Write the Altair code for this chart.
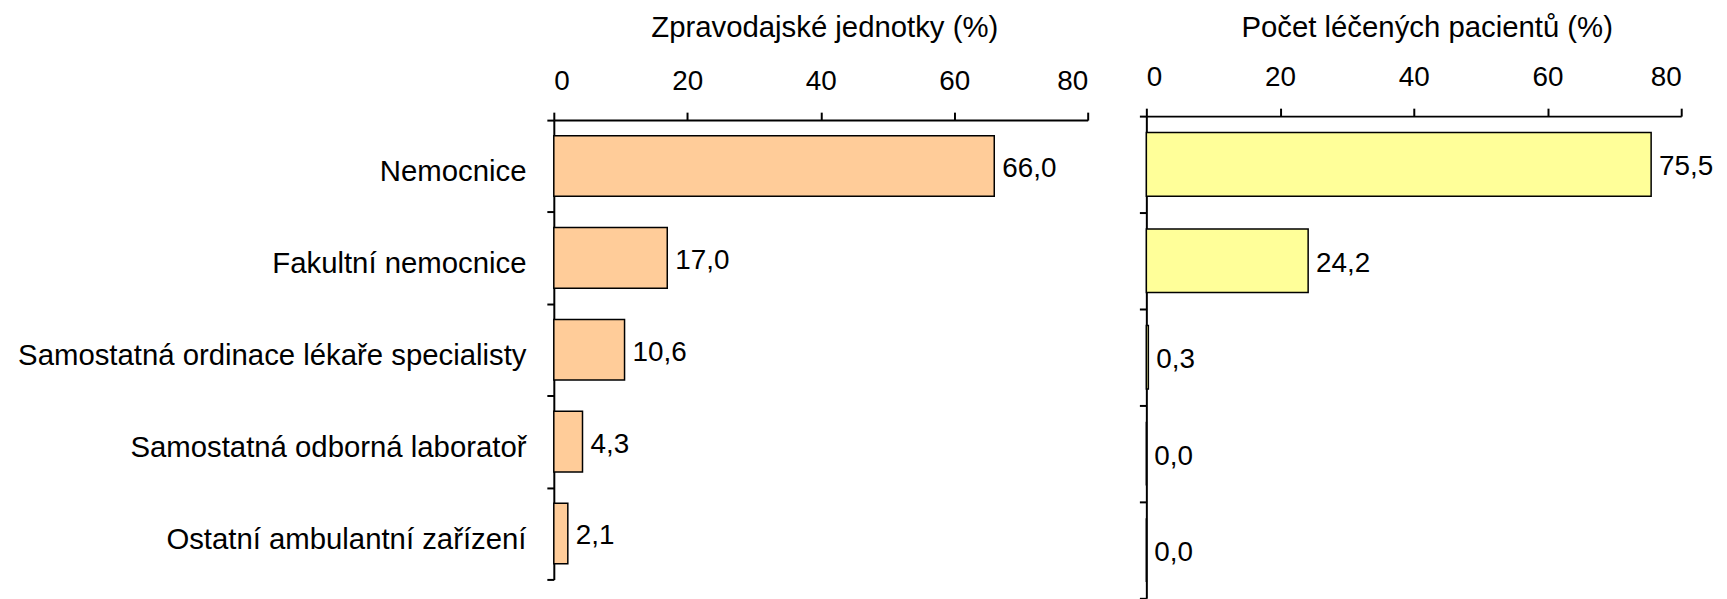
import altair as alt
import pandas as pd

categories = [
    "Nemocnice",
    "Fakultní nemocnice",
    "Samostatná ordinace lékaře specialisty",
    "Samostatná odborná laboratoř",
    "Ostatní ambulantní zařízení",
]
units_pct = [66.0, 17.0, 10.6, 4.3, 2.1]
patients_pct = [75.5, 24.2, 0.3, 0.0, 0.0]
x_ticks = [0, 20, 40, 60, 80]

df = pd.DataFrame({"cat": categories, "units": units_pct, "patients": patients_pct})

FONT = "Liberation Sans"


def panel(field, title, color, width, height, y_range, x_offset,
          show_labels, title_pad, title_x):
    base = alt.Chart(df).transform_calculate(
        lab=f"replace(format(datum.{field}, '.1f'), '.', ',')"
    )
    y = alt.Y(
        "cat:N",
        sort=categories,
        title=None,
        scale=alt.Scale(paddingInner=0, paddingOuter=0, range=y_range),
        axis=alt.Axis(
            labels=show_labels,
            tickBand="extent",
            tickSize=7,
            tickWidth=2,
            tickColor="black",
            domainColor="black",
            domainWidth=2,
            labelPadding=21,
            labelOffset=6,
            labelFontSize=29.5,
            labelFont=FONT,
            labelColor="black",
            labelLimit=800,
            grid=False,
        ),
    )
    x = alt.X(
        f"{field}:Q",
        scale=alt.Scale(domain=[0, 80], nice=False),
        axis=alt.Axis(
            orient="top",
            values=x_ticks,
            offset=x_offset,
            title=title,
            titleFont=FONT,
            titleFontSize=29.5,
            titleFontWeight="normal",
            titleColor="black",
            titlePadding=title_pad,
            titleX=title_x,
            tickSize=8,
            tickWidth=2,
            tickColor="black",
            domainColor="black",
            domainWidth=2,
            labelPadding=17,
            labelFontSize=28,
            labelFont=FONT,
            labelColor="black",
            grid=False,
        ),
    )
    bars = base.mark_bar(
        color=color, stroke="black", strokeWidth=1.5, height=alt.RelativeBandSize(0.66)
    ).encode(x=x, y=y)
    text = base.mark_text(
        align="left", baseline="middle", dx=8, dy=3, fontSize=28, font=FONT, color="black"
    ).encode(x=f"{field}:Q", y=alt.Y("cat:N", sort=categories), text="lab:N")
    return (bars + text).properties(width=width, height=height)


left = panel("units", "Zpravodajské jednotky (%)", "#FFCC99", 537, 462, [0, 462], 0,
             True, 25, 272)
right = panel("patients", "Počet léčených pacientů (%)", "#FFFF99", 538, 481, [-4, 481], 4,
              False, 21, 282)

chart = (
    alt.hconcat(left, right, spacing=50)
    .properties(padding={"left": 9, "top": 3, "right": 5, "bottom": 5})
    .configure_view(stroke=None)
)

chart.save("out.html", embed_options={"renderer": "svg", "actions": False})
